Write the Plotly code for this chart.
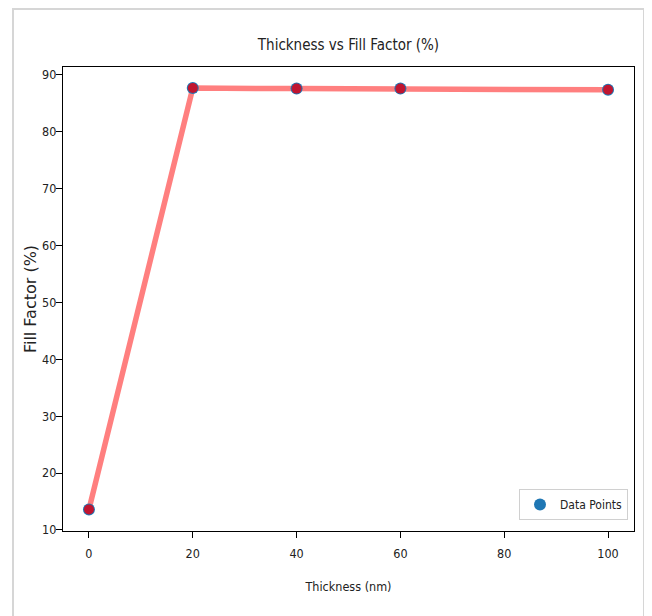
import plotly.graph_objects as go

thickness = [0, 20, 40, 60, 100]
fill_factor = [13.6, 87.7, 87.6, 87.6, 87.4]
x_ticks = [0, 20, 40, 60, 80, 100]
y_ticks = [10, 20, 30, 40, 50, 60, 70, 80, 90]

NARROW = "Liberation Sans Narrow, DejaVu Sans Condensed, Liberation Sans, sans-serif"

# page body has an 8px default margin; figure is sized to fill the rest
W, H = 644, 608

fig = go.Figure()

# red connecting line (semi-transparent)
fig.add_trace(go.Scatter(
    x=thickness, y=fill_factor, mode="lines",
    line=dict(color="rgba(255,0,0,0.5)", width=5.5),
    showlegend=False, hoverinfo="skip"))

# blue data points (legend)
fig.add_trace(go.Scatter(
    x=thickness, y=fill_factor, mode="markers", name="Data Points",
    marker=dict(color="#1f77b4", size=12, line=dict(width=0))))

# red overlay markers
fig.add_trace(go.Scatter(
    x=thickness, y=fill_factor, mode="markers",
    marker=dict(color="#c01530", size=10, line=dict(width=0)),
    showlegend=False, hoverinfo="skip"))

axis_common = dict(
    showgrid=False, zeroline=False, showline=True, linecolor="black",
    linewidth=1.2, mirror=True, ticks="outside", ticklen=6, tickcolor="black",
    tickwidth=1, tickfont=dict(family=NARROW, size=12.5, color="#222"),
    automargin=False,
)

ml, mr, mt, mb = 55, 18, 59, 85
pw, ph = W - ml - mr, H - mt - mb

fig.update_layout(
    width=W, height=H, autosize=False,
    margin=dict(l=ml, r=mr, t=mt, b=mb, autoexpand=False),
    paper_bgcolor="white", plot_bgcolor="white",
    title=dict(text="Thickness vs Fill Factor (%)", x=0.5, xanchor="center",
               xref="paper", y=1 - 37 / H, yanchor="middle", yref="container",
               font=dict(family=NARROW, size=15, color="#222")),
    xaxis=dict(range=[-5, 105], tickvals=x_ticks, ticklabelstandoff=5,
               title=dict(text="Thickness (nm)", standoff=22,
                          font=dict(family=NARROW, size=12.5, color="#222")),
               **axis_common),
    yaxis=dict(range=[9.8, 91.4], tickvals=y_ticks, ticklabelstandoff=-3,
               title=dict(text="Fill Factor (%)", standoff=1,
                          font=dict(family="DejaVu Sans", size=16, color="#222")),
               **axis_common),
    legend=dict(x=1 - 6 / pw, y=11 / ph, xanchor="right", yanchor="bottom",
                bgcolor="rgba(255,255,255,0.8)", bordercolor="#d0d0d0",
                borderwidth=1, font=dict(family=NARROW, size=12, color="#222"),
                itemwidth=30),
    shapes=[dict(type="rect", xref="paper", yref="paper",
                 x0=(5 - ml) / pw, x1=(636 - ml) / pw,
                 y0=-100 / ph, y1=(ph + mt - 1) / ph,
                 line=dict(color="#d6d6d6", width=2), layer="above")],
)

fig.write_html("out.html")
